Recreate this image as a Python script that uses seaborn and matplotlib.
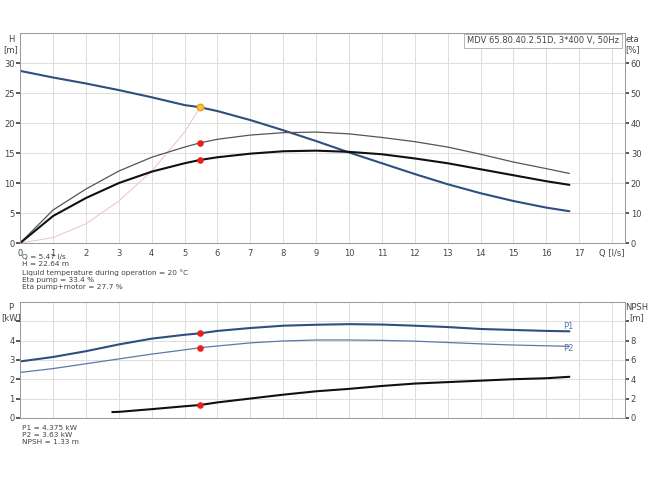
import matplotlib
matplotlib.use("Agg")
import matplotlib.pyplot as plt
import seaborn as sns
import pandas as pd

sns.set_theme(style="white")
plt.rcParams['font.family'] = ['DejaVu Sans']

q = [0, 1, 2, 3, 4, 5, 5.47, 6, 7, 8, 9, 10, 11, 12, 13, 14, 15, 16, 16.7]
head = [28.7, 27.6, 26.6, 25.5, 24.3, 23.0, 22.64, 22.0, 20.5, 18.8, 17.0, 15.1, 13.3, 11.5, 9.8, 8.3, 7.0, 5.9, 5.3]
eta_pump = [0, 11, 18, 24, 28.6, 32, 33.4, 34.6, 36, 36.8, 37, 36.4, 35.2, 33.8, 32, 29.6, 27, 24.8, 23.2]
eta_total = [0, 9, 15, 20, 23.8, 26.6, 27.7, 28.6, 29.8, 30.6, 30.8, 30.4, 29.6, 28.2, 26.6, 24.6, 22.6, 20.6, 19.4]
q_sys = [0, 1, 2, 3, 4, 5, 5.47]
h_sys = [0, 0.9, 3.2, 7.0, 12.0, 18.5, 22.64]
p1 = [2.92, 3.15, 3.45, 3.8, 4.1, 4.3, 4.375, 4.5, 4.65, 4.77, 4.82, 4.85, 4.83, 4.77, 4.7, 4.6, 4.55, 4.5, 4.48]
p2 = [2.35, 2.55, 2.8, 3.05, 3.3, 3.52, 3.63, 3.72, 3.88, 3.98, 4.03, 4.03, 4.01, 3.97, 3.9, 3.83, 3.77, 3.73, 3.7]
q_npsh = [2.8, 3, 4, 5, 5.47, 6, 7, 8, 9, 10, 11, 12, 13, 14, 15, 16, 16.7]
npsh = [0.6, 0.62, 0.9, 1.2, 1.33, 1.6, 2.0, 2.4, 2.75, 3.0, 3.3, 3.55, 3.7, 3.85, 4.0, 4.1, 4.25]
op_q = 5.47
op_h = 22.64
op_eta = [33.4, 27.7]
op_p = [4.375, 3.63]
op_npsh = 1.33

fig = plt.figure(figsize=(6.5, 4.87), dpi=100)
ax = fig.add_axes([0.031, 0.501, 0.931, 0.431])
axr = ax.twinx()
bx = fig.add_axes([0.031, 0.142, 0.931, 0.238])
bxr = bx.twinx()

gc = '#dddddd'
for a in (ax, bx):
    a.set_xlim(0, 18.4)
    a.set_xticks(range(0, 19))
    a.grid(True, color=gc, lw=0.7)
    a.tick_params(labelsize=6, colors='#444444', length=3, pad=1)
    for s in a.spines.values():
        s.set_color('#999999'); s.set_linewidth(0.7)
for a in (axr, bxr):
    a.tick_params(labelsize=6, colors='#444444', length=3, pad=1)
    for s in a.spines.values():
        s.set_color('#999999'); s.set_linewidth(0.7)

ax.set_xticklabels([str(i) for i in range(18)] + ['Q [l/s]'])
ax.set_ylim(0, 35)
ax.set_yticks([0, 5, 10, 15, 20, 25, 30])
axr.set_ylim(0, 70)
axr.set_yticks([0, 10, 20, 30, 40, 50, 60])

sns.lineplot(x=q_sys, y=h_sys, ax=ax, color='#f0c8c8', lw=0.8)
sns.lineplot(x=q, y=head, ax=ax, color='#2e4f7f', lw=1.5)
sns.lineplot(x=q, y=eta_pump, ax=axr, color='#555555', lw=0.9)
sns.lineplot(x=q, y=eta_total, ax=axr, color='#111111', lw=1.5)
axr.scatter([op_q, op_q], op_eta, color='#e8201a', s=14, zorder=5)
ax.scatter([op_q], [op_h], color='#f5c242', edgecolor='#e8a020', s=22, zorder=6)

fig.text(0.017, 0.928, 'H\n[m]', fontsize=6, color='#444444', ha='center', va='top', linespacing=1.1)
fig.text(0.973, 0.928, 'eta\n[%]', fontsize=6, color='#444444', ha='center', va='top', linespacing=1.1)
ax.text(0.99, 0.985, 'MDV 65.80.40.2.51D, 3*400 V, 50Hz', transform=ax.transAxes, fontsize=6,
        color='#444444', ha='right', va='top',
        bbox=dict(facecolor='white', edgecolor='#aaaaaa', lw=0.6, pad=2))
fig.text(0.034, 0.478, 'Q = 5.47 l/s\nH = 22.64 m\nLiquid temperature during operation = 20 °C\nEta pump = 33.4 %\nEta pump+motor = 27.7 %',
         fontsize=5.3, color='#444444', va='top', linespacing=1.25)

bx.set_xticklabels([])
bx.tick_params(axis='x', length=0)
bx.set_ylim(0, 6)
bx.set_yticks([0, 1, 2, 3, 4, 5])
bx.set_yticklabels(['0', '1', '2', '3', '4', ''])
bxr.set_ylim(0, 12)
bxr.set_yticks([0, 2, 4, 6, 8, 10])
bxr.set_yticklabels(['0', '2', '4', '6', '8', ''])
sns.lineplot(x=q, y=p1, ax=bx, color='#2e4f7f', lw=1.5)
sns.lineplot(x=q, y=p2, ax=bx, color='#5a7aa5', lw=0.9)
sns.lineplot(x=q_npsh, y=npsh, ax=bxr, color='#111111', lw=1.5)
bx.scatter([op_q, op_q], op_p, color='#e8201a', s=14, zorder=5)
bxr.scatter([op_q], [op_npsh], color='#e8201a', s=14, zorder=5)
bx.text(16.5, 4.62, 'P1', fontsize=6, color='#5a7aa5')
bx.text(16.5, 3.45, 'P2', fontsize=6, color='#5a7aa5')
fig.text(0.017, 0.377, 'P\n[kW]', fontsize=6, color='#444444', ha='center', va='top', linespacing=1.1)
fig.text(0.979, 0.377, 'NPSH\n[m]', fontsize=6, color='#444444', ha='center', va='top', linespacing=1.1)
fig.text(0.034, 0.128, 'P1 = 4.375 kW\nP2 = 3.63 kW\nNPSH = 1.33 m',
         fontsize=5.3, color='#444444', va='top', linespacing=1.25)

fig.savefig('out.png', dpi=100)
